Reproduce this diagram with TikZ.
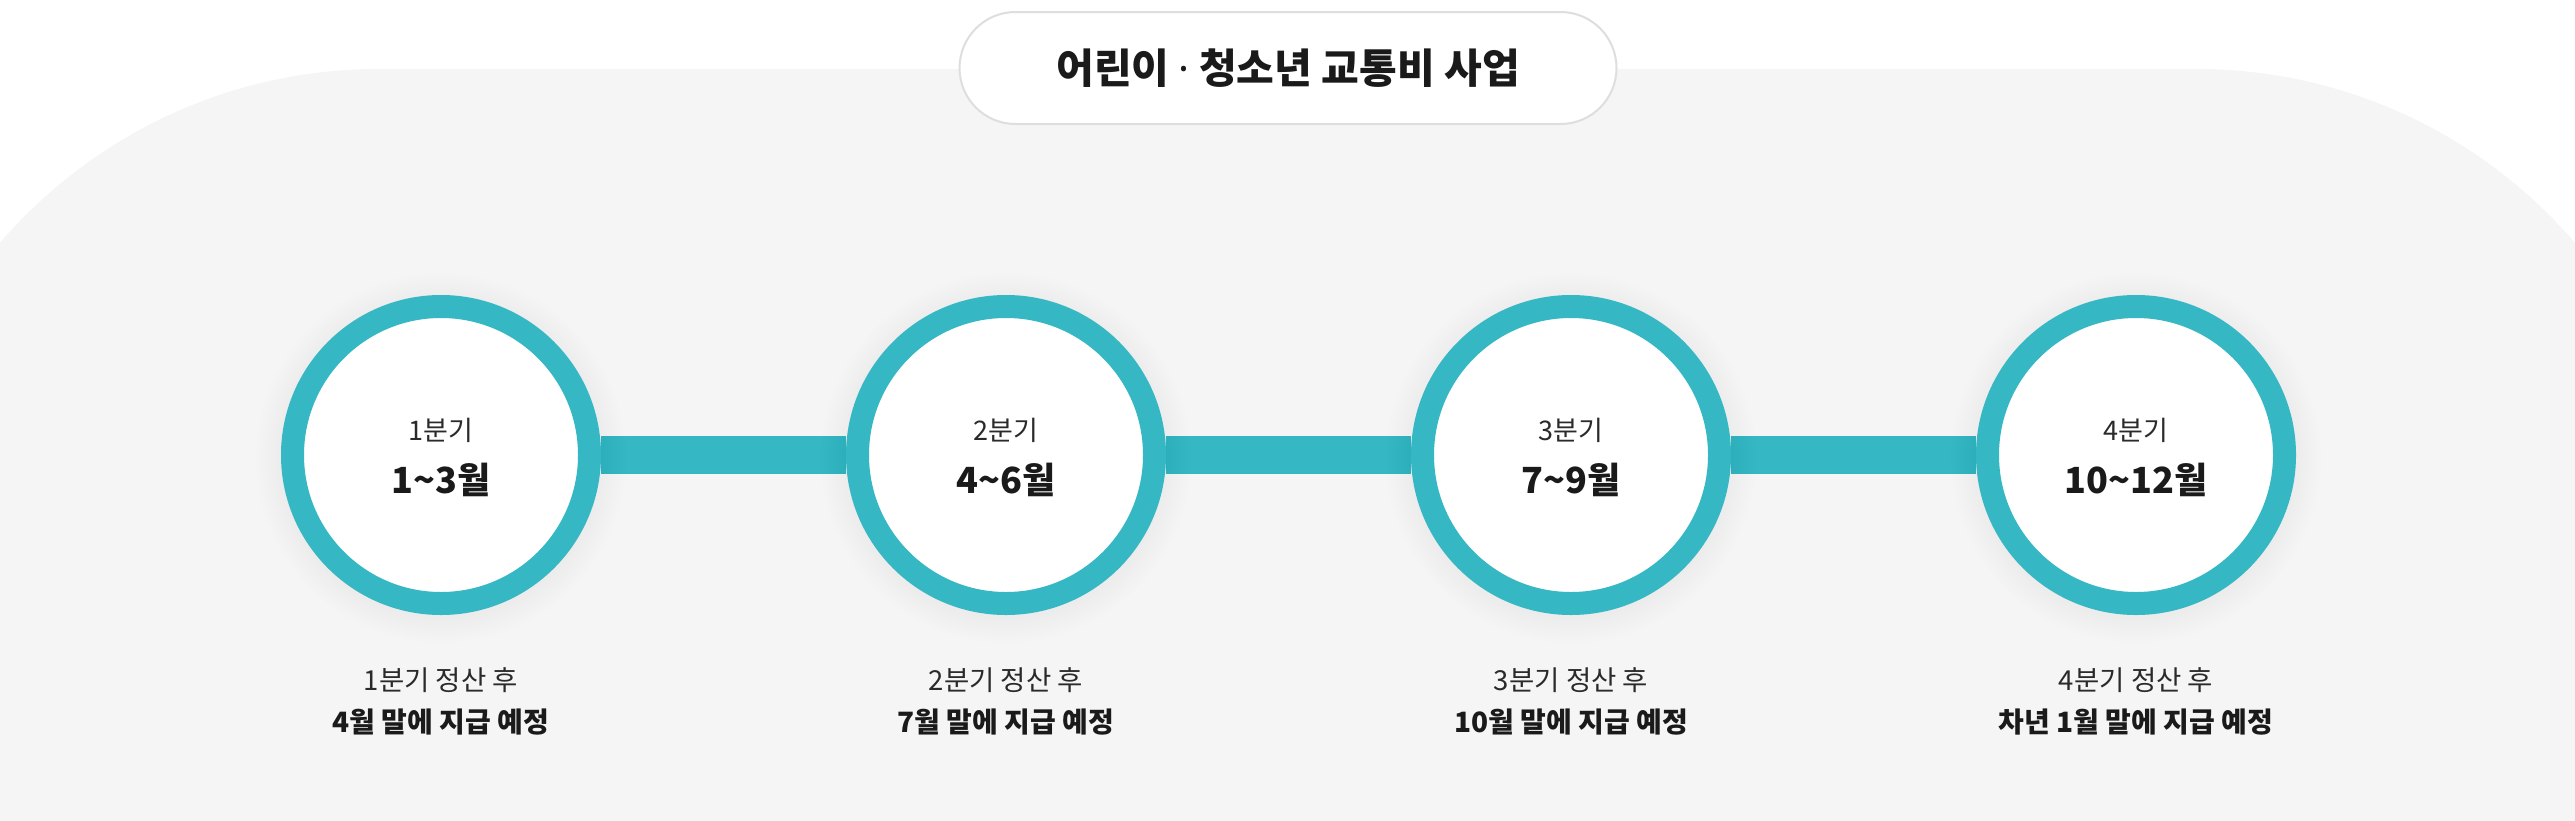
\documentclass[tikz,border=0pt]{standalone}
\usepackage{fontspec}
\setmainfont{Noto Sans CJK KR}
\newfontfamily\latinsans{Noto Sans}
\definecolor{ringcol}{HTML}{36B7C4}
\definecolor{panel}{HTML}{F5F5F5}
\definecolor{pillline}{HTML}{DEDEDE}
\definecolor{txt}{HTML}{1A1A1A}
\definecolor{txtb}{HTML}{2A2A2A}
\pgfdeclarelayer{base}
\pgfdeclarelayer{bars}
\pgfdeclarelayer{shade}
\pgfsetlayers{base,bars,shade,main}
\begin{document}
\begin{tikzpicture}[x=1pt,y=-1pt,
  ring/.style={circle, draw=ringcol, line width=23pt, fill=white, minimum size=297pt, inner sep=0pt},
  bar/.style={draw=ringcol, line width=38pt},
  qtop/.style={font=\fontsize{27}{32}\selectfont, text=txtb, inner sep=0pt},
  qbig/.style={font=\fontsize{36}{42}\selectfont\bfseries, text=txt, inner sep=0pt},
  note/.style={font=\fontsize{27.5}{32}\selectfont, text=txtb, inner sep=0pt},
  notebold/.style={font=\fontsize{28}{34}\selectfont\bfseries, text=txt, inner sep=0pt},
  pill/.style={draw=pillline, line width=2pt, fill=white, rounded corners=56pt, minimum width=657pt, minimum height=112pt, font=\fontsize{41}{48}\selectfont\bfseries, text=txt}
]
\useasboundingbox (0,0) rectangle (2575,820);
\begin{pgfonlayer}{base}
  \fill[white] (0,0) rectangle (2575,820);
  \begin{scope}
    \clip (0,0) rectangle (2575,820);
    \fill[panel, rounded corners=500pt] (-121,69) rectangle (2696,1400);
  \end{scope}
\end{pgfonlayer}

\node[pill] (title) at (1288,68) {어린이 {\latinsans\bfseries·} 청소년 교통비 사업};

\foreach \i/\x in {1/441,2/1006,3/1571,4/2136}
  \node[ring] (q\i) at (\x,455) {};

\begin{pgfonlayer}{bars}
  \draw[bar] (q1) -- (q2);
  \draw[bar] (q2) -- (q3);
  \draw[bar] (q3) -- (q4);
\end{pgfonlayer}

\begin{pgfonlayer}{shade}
  \foreach \i in {1,2,3,4}
    \foreach \r in {161,164,...,185}
      \fill[black, opacity=0.005] ([yshift=-3pt]q\i.center) circle (\r pt);
\end{pgfonlayer}

\node[qtop] (a1) at ([yshift=25pt]q1.center) {1분기};
\node[qbig] (b1) at ([yshift=-25pt]q1.center) {1\textasciitilde3월};
\node[qtop] (a2) at ([yshift=25pt]q2.center) {2분기};
\node[qbig] (b2) at ([yshift=-25pt]q2.center) {4\textasciitilde6월};
\node[qtop] (a3) at ([yshift=25pt]q3.center) {3분기};
\node[qbig] (b3) at ([yshift=-25pt]q3.center) {7\textasciitilde9월};
\node[qtop] (a4) at ([yshift=25pt]q4.center) {4분기};
\node[qbig] (b4) at ([yshift=-25pt]q4.center) {10\textasciitilde12월};

\node[note] (n1) at ([yshift=-225pt]q1.center) {1분기 정산 후};
\node[notebold] (m1) at ([yshift=-267pt]q1.center) {4월 말에 지급 예정};
\node[note] (n2) at ([yshift=-225pt]q2.center) {2분기 정산 후};
\node[notebold] (m2) at ([yshift=-267pt]q2.center) {7월 말에 지급 예정};
\node[note] (n3) at ([yshift=-225pt]q3.center) {3분기 정산 후};
\node[notebold] (m3) at ([yshift=-267pt]q3.center) {10월 말에 지급 예정};
\node[note] (n4) at ([yshift=-225pt]q4.center) {4분기 정산 후};
\node[notebold] (m4) at ([yshift=-267pt]q4.center) {차년 1월 말에 지급 예정};
\end{tikzpicture}
\end{document}
